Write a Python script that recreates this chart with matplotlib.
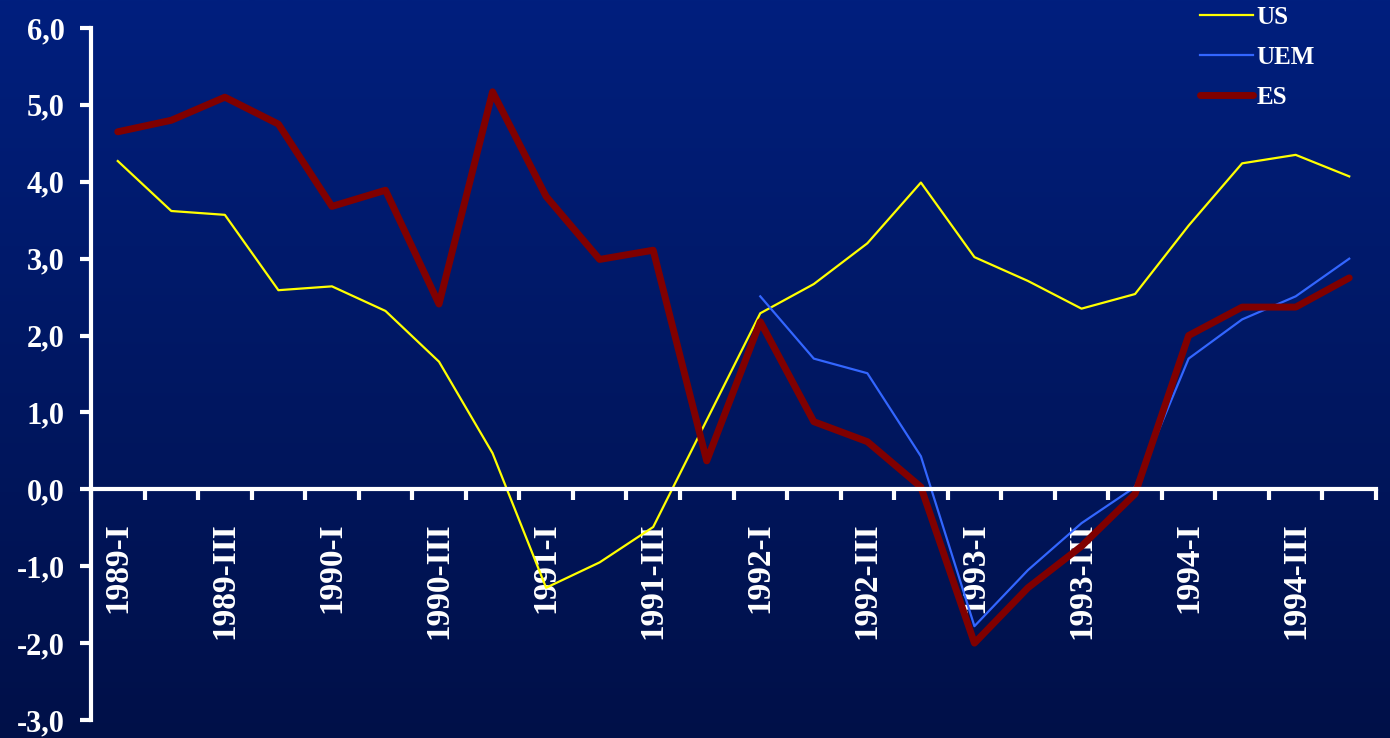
import matplotlib
matplotlib.use('Agg')
import matplotlib.pyplot as plt
import numpy as np

# quarters 1989-I .. 1994-IV
quarters = [f'{y}-{q}' for y in range(1989, 1995) for q in ['I', 'II', 'III', 'IV']]

us = [4.27, 3.62, 3.57, 2.59, 2.64, 2.32, 1.66, 0.47,
      -1.28, -0.95, -0.49, 0.90, 2.29, 2.67, 3.20, 3.99,
      3.02, 2.71, 2.35, 2.54, 3.43, 4.24, 4.35, 4.07]
uem = [None] * 12 + [2.51, 1.70, 1.51, 0.43,
                     -1.78, -1.05, -0.44, 0.03, 1.70, 2.21, 2.51, 3.00]
es = [4.65, 4.80, 5.10, 4.75, 3.68, 3.89, 2.41, 5.17,
      3.81, 2.99, 3.11, 0.37, 2.18, 0.88, 0.62, 0.03,
      -2.00, -1.28, -0.74, -0.06, 2.00, 2.37, 2.37, 2.75]

yticks = np.arange(-3, 7, 1)

plt.rcParams['font.family'] = ['Liberation Serif', 'DejaVu Serif']
plt.rcParams['font.weight'] = 'bold'

fig = plt.figure(figsize=(13.9, 7.38), dpi=100)

# background gradient
bg = fig.add_axes([0, 0, 1, 1], zorder=0)
top = np.array([0, 31, 126]) / 255
bottom = np.array([0, 16, 72]) / 255
t = np.linspace(0, 1, 256)[:, None]
grad = (top[None, :] * (1 - t) + bottom[None, :] * t)[:, None, :]
bg.imshow(grad, aspect='auto', extent=[0, 1, 0, 1])
bg.axis('off')

ax = fig.add_axes([91 / 1390, 18 / 738, (1376 - 91) / 1390, (720 - 28) / 738], zorder=1)
ax.patch.set_alpha(0)

x = np.arange(len(quarters))
uem_arr = np.array([np.nan if v is None else v for v in uem], dtype=float)

ax.plot(x, us, color='#FFFF00', lw=1.6, label='US')
ax.plot(x, uem_arr, color='#3366FF', lw=1.6, label='UEM')
ax.plot(x, es, color='#800000', lw=5, label='ES', solid_capstyle='round')

ax.set_xlim(-0.5, len(quarters) - 0.5)
ax.set_ylim(-3, 6)

for s in ['top', 'right']:
    ax.spines[s].set_visible(False)
ax.spines['bottom'].set_position(('data', 0))
ax.spines['left'].set_color('white')
ax.spines['bottom'].set_color('white')
ax.spines['left'].set_linewidth(3)
ax.spines['bottom'].set_linewidth(3)

ax.set_yticks(yticks)
ax.set_yticklabels([f'{v:.1f}'.replace('.', ',') for v in yticks])
ax.tick_params(axis='y', colors='white', length=8, width=3, pad=11, labelsize=22)

# tick marks between categories, labels on every other quarter
ax.set_xticks(np.arange(-0.5, len(quarters), 1))
ax.set_xticklabels([])
ax.tick_params(axis='x', which='major', colors='white', length=8, width=3, direction='out')
ax.set_xticks(x[::2], minor=True)
ax.set_xticklabels(quarters[::2], minor=True, rotation=90, va='top', ha='center')
ax.tick_params(axis='x', which='minor', length=0, pad=24, labelsize=24, labelcolor='white')

leg = ax.legend(loc='upper left', bbox_to_anchor=(1200 / 1390, 1 - 6 / 738),
                bbox_transform=fig.transFigure, frameon=False, fontsize=18,
                handlelength=2.1, handletextpad=0.15, labelspacing=0.68,
                borderpad=0, borderaxespad=0)
for txt in leg.get_texts():
    txt.set_color('white')

fig.savefig('out.png', dpi=100)
